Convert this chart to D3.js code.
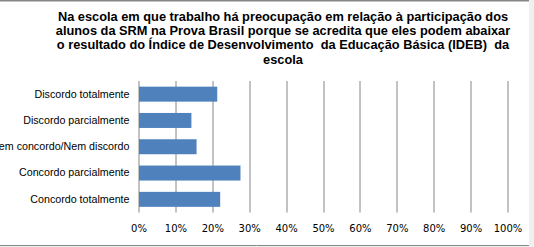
<!DOCTYPE html>
<html>
<head>
<meta charset="utf-8">
<script src="https://cdn.jsdelivr.net/npm/d3@7"></script>
<style>
  html, body { margin: 0; padding: 0; background: #f0f0f0; }
  #chart { width: 534px; height: 247px; }
</style>
</head>
<body>
<div id="chart"></div>
<script>
const titleLines = [
  "Na escola em que trabalho há preocupação em relação à participação dos",
  "alunos da SRM na Prova Brasil porque se acredita que eles podem abaixar",
  "o resultado do Índice de Desenvolvimento  da Educação Básica (IDEB)  da",
  "escola"
];
const categories = [
  "Discordo totalmente",
  "Discordo parcialmente",
  "Nem concordo/Nem discordo",
  "Concordo parcialmente",
  "Concordo totalmente"
];
const values = [21.2, 14.2, 15.6, 27.5, 22.0];
const tickValues = [0, 10, 20, 30, 40, 50, 60, 70, 80, 90, 100];

class HBarChart {
  constructor(el) {
    this.el = el;
    this.initChart();
  }

  initChart() {
    const width = 534, height = 247;
    const margin = { left: 138.5, right: 26.5, top: 81, bottom: 34.5 };
    const innerWidth = width - margin.left - margin.right;
    const innerHeight = height - margin.top - margin.bottom;

    const svg = d3.select(`#${this.el}`).append("svg")
      .attr("width", width)
      .attr("height", height);

    // chart background + border
    svg.append("rect")
      .attr("x", 0).attr("y", 0)
      .attr("width", 529).attr("height", 246)
      .attr("fill", "#fff");
    svg.append("line")
      .attr("x1", 0).attr("x2", 529).attr("y1", 0.75).attr("y2", 0.75)
      .attr("stroke", "#878787").attr("stroke-width", 1.5);
    svg.append("line")
      .attr("x1", 0).attr("x2", 529).attr("y1", 245.5).attr("y2", 245.5)
      .attr("stroke", "#878787").attr("stroke-width", 1);

    svg.append("text")
      .attr("x", 283)
      .attr("y", 20.5)
      .attr("text-anchor", "middle")
      .style("font-family", "'Liberation Sans', Arial, sans-serif")
      .style("font-weight", "bold")
      .style("font-size", "12.8px")
      .style("white-space", "pre")
      .attr("fill", "#000")
      .selectAll("tspan")
      .data(titleLines)
      .join("tspan")
      .attr("x", 283)
      .attr("dy", (d, i) => i === 0 ? 0 : 14.4)
      .text(d => d);

    const main = svg.append("g")
      .attr("transform", `translate(${margin.left},${margin.top})`);

    const x = d3.scaleLinear().domain([0, 100]).range([0, innerWidth]);
    const y = d3.scaleBand().domain(categories).range([0, innerHeight])
      .paddingInner(0.43).paddingOuter(0.215);

    // gridlines
    main.selectAll(".grid")
      .data(tickValues)
      .join("line")
      .attr("class", "grid")
      .attr("x1", d => Math.round(x(d)) + 0.5)
      .attr("x2", d => Math.round(x(d)) + 0.5)
      .attr("y1", 0)
      .attr("y2", innerHeight)
      .attr("stroke", "#868686")
      .attr("stroke-width", 1);

    main.selectAll(".bar")
      .data(values)
      .join("rect")
      .attr("class", "bar")
      .attr("x", x(0) + 0.5)
      .attr("y", (d, i) => y(categories[i]))
      .attr("width", d => x(d) - x(0))
      .attr("height", y.bandwidth())
      .attr("fill", "#4f81bd");

    const xAxis = d3.axisBottom(x)
      .tickValues(tickValues)
      .tickFormat(d => d + "%")
      .tickSize(0)
      .tickPadding(12);
    main.append("g")
      .attr("transform", `translate(0,${innerHeight})`)
      .call(xAxis)
      .call(g => g.select(".domain").remove())
      .selectAll("text")
      .style("font-family", "'DejaVu Sans', Verdana, sans-serif")
      .style("font-size", "10px")
      .attr("fill", "#000");

    const yAxis = d3.axisLeft(y).tickSize(0).tickPadding(9);
    main.append("g")
      .call(yAxis)
      .call(g => g.select(".domain").remove())
      .selectAll("text")
      .style("font-family", "'Liberation Sans', Arial, sans-serif")
      .style("font-size", "10.7px")
      .attr("fill", "#000");
  }
}

new HBarChart("chart");
</script>
</body>
</html>
